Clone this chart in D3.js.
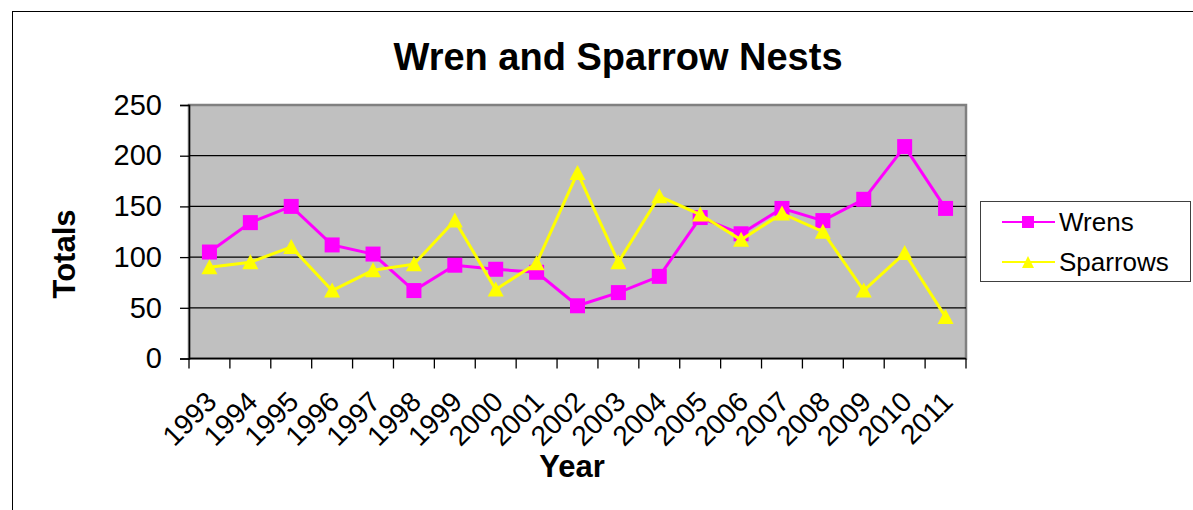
<!DOCTYPE html>
<html>
<head>
    <title>Wren and Sparrow Nests</title>
    <script src="https://d3js.org/d3.v7.min.js"></script>
    <style>
        body { margin: 0; background: #fff; }
        text { font-family: "Liberation Sans", Arial, sans-serif; fill: #000; }
        .grid line { stroke: #000; stroke-width: 1.3px; }
    </style>
</head>
<body>
<svg width="1193" height="510"></svg>
<script>

    var years = ["1993", "1994", "1995", "1996", "1997", "1998", "1999", "2000", "2001", "2002",
                 "2003", "2004", "2005", "2006", "2007", "2008", "2009", "2010", "2011"];
    var wrens = [105, 134, 150, 112, 103, 67, 92, 88, 85, 52, 65, 81, 139, 123, 148, 136, 157, 209, 148];
    var sparrows = [90, 95, 110, 67, 87, 93, 136, 68, 94, 183, 95, 160, 142, 117, 143, 125, 67, 104, 41];
    var yTicks = [0, 50, 100, 150, 200, 250];

    var svg = d3.select("svg");

    var pLeft = 189, pRight = 966, pTop = 105, pBottom = 358.5;

    var x = d3.scaleBand().domain(years).range([pLeft, pRight]);
    var y = d3.scaleLinear().domain([0, 250]).range([pBottom, pTop]);

    // outer chart frame (only top and left edges show)
    svg.append("rect")
        .attr("x", 12.5).attr("y", 11.5)
        .attr("width", 1300).attr("height", 600)
        .attr("fill", "none").attr("stroke", "#000").attr("stroke-width", 1);

    // plot area
    svg.append("rect")
        .attr("x", pLeft).attr("y", pTop)
        .attr("width", pRight - pLeft).attr("height", pBottom - pTop)
        .attr("fill", "#c0c0c0")
        .attr("stroke", "#808080").attr("stroke-width", 2.5);

    svg.append("g").attr("class", "grid")
        .selectAll("line")
        .data(yTicks.filter(function(d) { return d > 0 && d < 250; }))
        .enter().append("line")
        .attr("x1", pLeft).attr("x2", pRight)
        .attr("y1", function(d) { return y(d); })
        .attr("y2", function(d) { return y(d); });

    // y axis
    var yAxis = svg.append("g")
        .attr("transform", "translate(" + pLeft + ",0)")
        .call(d3.axisLeft(y).tickValues(yTicks).tickSize(9).tickPadding(18));
    yAxis.select(".domain").attr("stroke", "#000").attr("stroke-width", 1.5);
    yAxis.selectAll(".tick line").attr("stroke", "#000").attr("stroke-width", 1.3);
    yAxis.selectAll("text")
        .style("font-size", "29px")
        .attr("fill", "#000");

    // x axis: ticks on category boundaries
    var xg = svg.append("g");
    xg.append("line")
        .attr("x1", pLeft).attr("x2", pRight)
        .attr("y1", pBottom).attr("y2", pBottom)
        .attr("stroke", "#000").attr("stroke-width", 1.5);
    var bounds = years.map(function(d) { return x(d); }).concat([pRight]);
    xg.selectAll(".xt")
        .data(bounds)
        .enter().append("line")
        .attr("class", "xt")
        .attr("x1", function(d) { return d; }).attr("x2", function(d) { return d; })
        .attr("y1", pBottom).attr("y2", pBottom + 10)
        .attr("stroke", "#000").attr("stroke-width", 1.3);

    xg.selectAll(".xl")
        .data(years)
        .enter().append("text")
        .attr("class", "xl")
        .attr("text-anchor", "end")
        .attr("dy", "0.35em")
        .style("font-size", "28px")
        .attr("transform", function(d) {
            return "translate(" + (x(d) + x.bandwidth() / 2 + 2) + "," + (pBottom + 38) + ") rotate(-45)";
        })
        .text(function(d) { return d; });

    // axis titles
    svg.append("text")
        .attr("x", 572).attr("y", 477)
        .attr("text-anchor", "middle")
        .style("font-size", "31px").style("font-weight", "bold")
        .text("Year");

    svg.append("text")
        .attr("transform", "translate(75,254) rotate(-90)")
        .attr("text-anchor", "middle")
        .style("font-size", "31px").style("font-weight", "bold")
        .text("Totals");

    // title
    svg.append("text")
        .attr("x", 618).attr("y", 70)
        .attr("text-anchor", "middle")
        .style("font-size", "38px").style("font-weight", "bold")
        .text("Wren and Sparrow Nests");

    // series
    var cx = function(d, i) { return x(years[i]) + x.bandwidth() / 2; };
    var line = d3.line()
        .x(function(d, i) { return cx(d, i); })
        .y(function(d) { return y(d); });

    var square = "M-7.5,-7.5H7.5V7.5H-7.5Z";
    var triangle = "M0,-8L8,7H-8Z";

    var series = [
        {name: "Wrens", values: wrens, color: "#ff00ff", marker: square},
        {name: "Sparrows", values: sparrows, color: "#ffff00", marker: triangle}
    ];

    series.forEach(function(s) {
        svg.append("path")
            .datum(s.values)
            .attr("d", line)
            .attr("fill", "none")
            .attr("stroke", s.color)
            .attr("stroke-width", 3);

        svg.append("g")
            .selectAll("path")
            .data(s.values)
            .enter().append("path")
            .attr("d", s.marker)
            .attr("fill", s.color)
            .attr("transform", function(d, i) {
                return "translate(" + cx(d, i) + "," + y(d) + ")";
            });
    });

    // legend
    var legend = svg.append("g");
    legend.append("rect")
        .attr("x", 980.5).attr("y", 201.5)
        .attr("width", 210).attr("height", 80)
        .attr("fill", "#fff").attr("stroke", "#404040").attr("stroke-width", 1);

    var ly = [222, 262];
    series.forEach(function(s, i) {
        legend.append("line")
            .attr("x1", 1002).attr("x2", 1055)
            .attr("y1", ly[i]).attr("y2", ly[i])
            .attr("stroke", s.color).attr("stroke-width", 2);
        legend.append("path")
            .attr("d", i === 0 ? "M-6,-6H6V6H-6Z" : "M0,-6L6,6H-6Z")
            .attr("fill", s.color)
            .attr("transform", "translate(1028," + ly[i] + ")");
        legend.append("text")
            .attr("x", 1059).attr("y", ly[i] + 9)
            .style("font-size", "26px")
            .text(s.name);
    });

</script>
</body>
</html>
